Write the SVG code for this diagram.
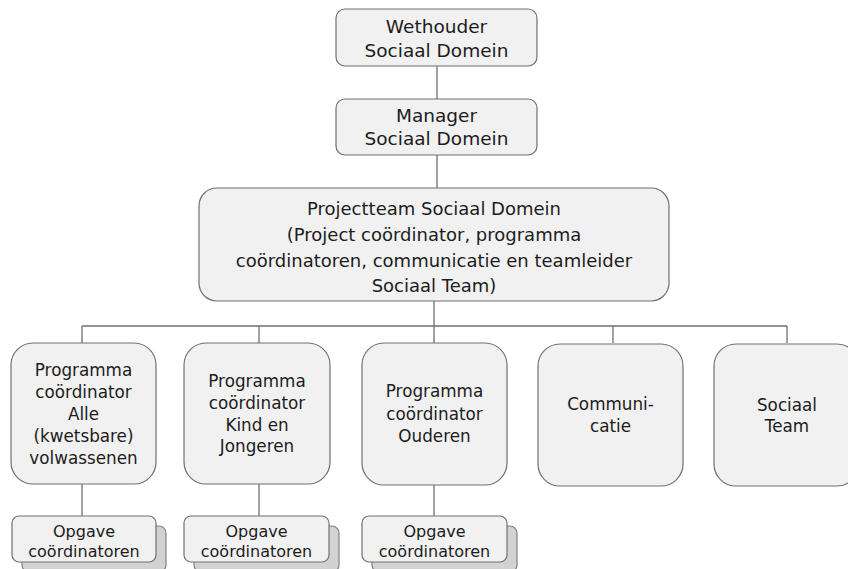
<svg xmlns="http://www.w3.org/2000/svg" width="848" height="569" viewBox="0 0 848 569">
<style>
.box{fill:#f1f1f1;stroke:#707070;stroke-width:1.2}
.sh{fill:#d2d2d2;stroke:#808080;stroke-width:1.2}
.ln{stroke:#707070;stroke-width:1.3;fill:none}
text{font-family:"DejaVu Sans",sans-serif;fill:#1c1c1c;text-anchor:middle}
.t1{font-size:18.5px}
.t2{font-size:18px}
.t3{font-size:16.8px}
.t4{font-size:16px}
</style>
<rect width="848" height="569" fill="#ffffff"/>
<g id="connectors">
<path class="ln" d="M437 66V99M437 155V188M434 301V326M82 326H787M82 326V343M259 326V343M434 326V343M613 326V343M787 326V343M82 484V516M259 484V516M434 485V516"/>
</g>
<g id="wethouder">
<rect class="box" x="336" y="9" width="201" height="57" rx="9"/>
<text class="t1" x="436.5" y="33">Wethouder</text>
<text class="t1" x="436.5" y="57">Sociaal Domein</text>
</g>
<g id="manager">
<rect class="box" x="336" y="99" width="201" height="56" rx="9"/>
<text class="t1" x="436.5" y="122">Manager</text>
<text class="t1" x="436.5" y="145">Sociaal Domein</text>
</g>
<g id="projectteam">
<rect class="box" x="199" y="188" width="470" height="113" rx="18"/>
<text class="t2" x="434" y="215">Projectteam Sociaal Domein</text>
<text class="t2" x="434" y="241">(Project coördinator, programma</text>
<text class="t2" x="434" y="267">coördinatoren, communicatie en teamleider</text>
<text class="t2" x="434" y="292">Sociaal Team)</text>
</g>
<g id="pc-volwassenen">
<rect class="box" x="11" y="343" width="145" height="141" rx="22"/>
<text class="t3" x="83.5" y="376">Programma</text>
<text class="t3" x="83.5" y="398">coördinator</text>
<text class="t3" x="83.5" y="420">Alle</text>
<text class="t3" x="83.5" y="442">(kwetsbare)</text>
<text class="t3" x="83.5" y="464">volwassenen</text>
</g>
<g id="pc-jongeren">
<rect class="box" x="184" y="343" width="146" height="141" rx="22"/>
<text class="t3" x="257" y="387">Programma</text>
<text class="t3" x="257" y="409">coördinator</text>
<text class="t3" x="257" y="431">Kind en</text>
<text class="t3" x="257" y="452">Jongeren</text>
</g>
<g id="pc-ouderen">
<rect class="box" x="362" y="343" width="145" height="142" rx="22"/>
<text class="t3" x="434.5" y="397">Programma</text>
<text class="t3" x="434.5" y="420">coördinator</text>
<text class="t3" x="434.5" y="442">Ouderen</text>
</g>
<g id="communicatie">
<rect class="box" x="538" y="344" width="145" height="142" rx="22"/>
<text class="t3" x="610.5" y="410">Communi-</text>
<text class="t3" x="610.5" y="432">catie</text>
</g>
<g id="sociaal-team">
<rect class="box" x="714" y="344" width="145" height="142" rx="22"/>
<text class="t3" x="787" y="411">Sociaal</text>
<text class="t3" x="787" y="432">Team</text>
</g>
<g id="opgave-1">
<rect class="sh" x="22" y="526" width="144" height="46" rx="7"/>
<rect class="box" x="12" y="516" width="144" height="46" rx="7"/>
<text class="t4" x="84" y="537">Opgave</text>
<text class="t4" x="84" y="557">coördinatoren</text>
</g>
<g id="opgave-2">
<rect class="sh" x="194" y="526" width="145" height="46" rx="7"/>
<rect class="box" x="184" y="516" width="145" height="46" rx="7"/>
<text class="t4" x="256.5" y="537">Opgave</text>
<text class="t4" x="256.5" y="557">coördinatoren</text>
</g>
<g id="opgave-3">
<rect class="sh" x="372" y="526" width="145" height="46" rx="7"/>
<rect class="box" x="362" y="516" width="145" height="46" rx="7"/>
<text class="t4" x="434.5" y="537">Opgave</text>
<text class="t4" x="434.5" y="557">coördinatoren</text>
</g>
</svg>
